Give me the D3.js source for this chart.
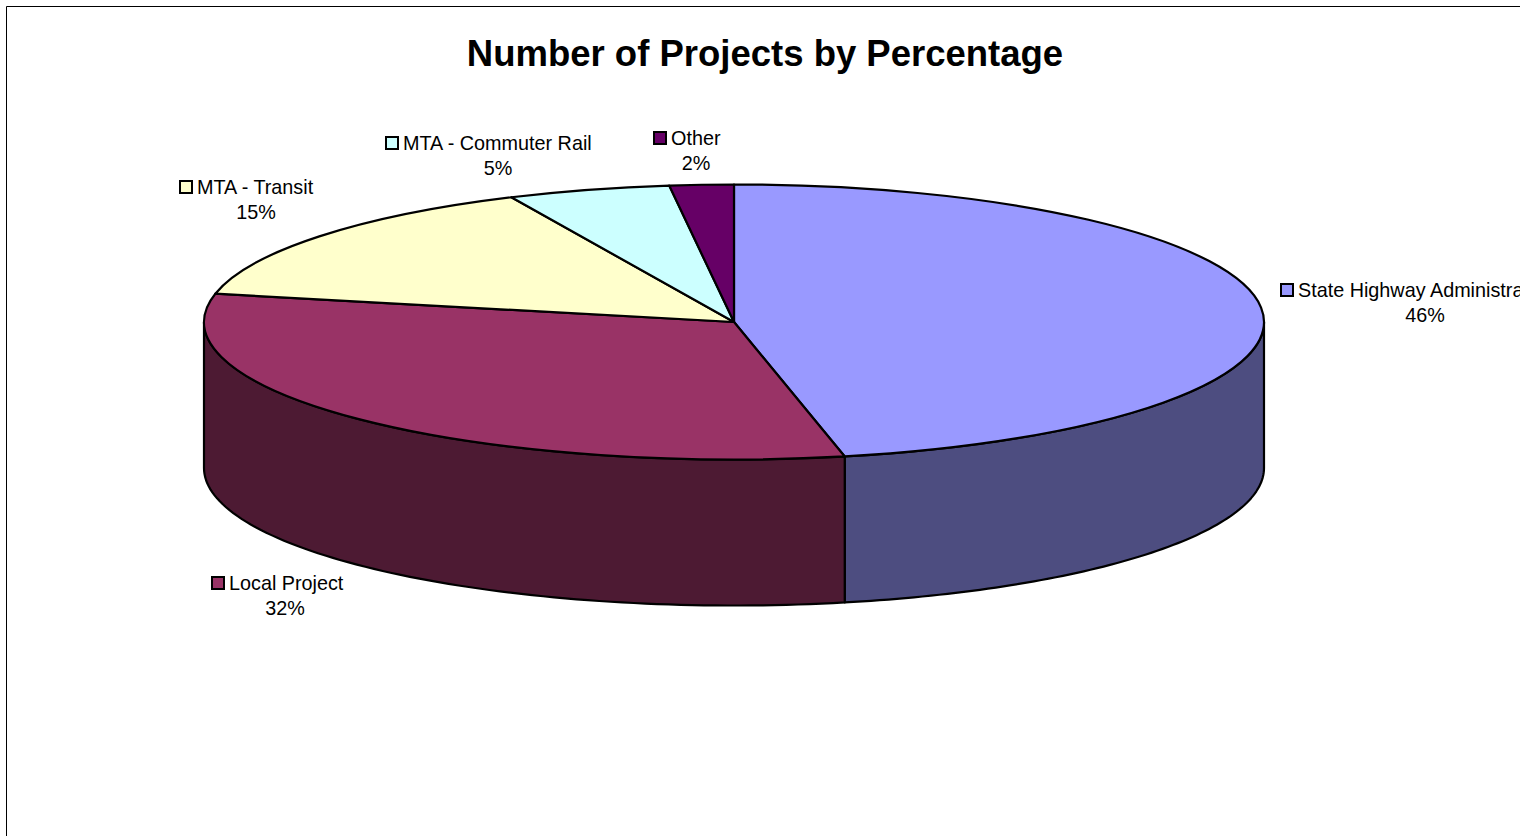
<!DOCTYPE html>
<html>
<head>
<meta charset="utf-8">
<script src="https://cdn.jsdelivr.net/npm/d3@7/dist/d3.min.js"></script>
<style>
html, body { margin: 0; padding: 0; background: #fff; overflow: hidden; }
text { font-family: "Liberation Sans", Arial, sans-serif; fill: #000; }
</style>
</head>
<body>
<div id="chart"></div>
<script>
// chart data
var categories = ["State Highway Administration", "Local Project", "MTA - Transit", "MTA - Commuter Rail", "Other"];
var values = [46.65, 31.65, 14.8, 4.95, 1.95];
var percentLabels = ["46%", "32%", "15%", "5%", "2%"];
var topColors = ["#9999FF", "#993366", "#FFFFCC", "#CCFFFF", "#660066"];
var sideColors = ["#4D4D80", "#4D1A33", "#808066", "#668080", "#330033"];

// where each label sits: start of the name line, center of the percent line
var labelNameX = [1298, 229, 197, 403, 671];
var labelNameY = [297, 590, 194, 150, 145];
var labelPctX = [1425, 285, 256, 498, 696];

var chart_width = 1520;
var chart_height = 836;

// pie geometry
var cx = 734, cy = 322;
var rx = 530, ry = 137.5;
var depth = 146;

var svg = d3.select("#chart")
    .append("svg")
    .attr("width", chart_width)
    .attr("height", chart_height)
    .style("display", "block");

// frame runs off the right and bottom of the picture
svg.append("path")
    .attr("d", "M6.5," + chart_height + "V6.5H" + chart_width)
    .attr("fill", "none")
    .attr("stroke", "#000")
    .attr("stroke-width", 1);

svg.append("text")
    .attr("x", 765)
    .attr("y", 66)
    .attr("text-anchor", "middle")
    .attr("font-size", 36.5)
    .attr("font-weight", "bold")
    .text("Number of Projects by Percentage");

var pie = d3.pie().sort(null)(values);

// d3 angles: 0 is up, clockwise
function px(a) { return cx + rx * Math.sin(a); }
function py(a) { return cy - ry * Math.cos(a); }

var line = d3.line();

// outer wall, only the part of each slice facing the viewer
var wallFrom = Math.PI / 2, wallTo = 3 * Math.PI / 2;
pie.forEach(function(d, i) {
    var a0 = Math.max(d.startAngle, wallFrom);
    var a1 = Math.min(d.endAngle, wallTo);
    if (a1 <= a0) return;
    var n = 80;
    var angles = d3.range(n + 1).map(function(k) { return a0 + (a1 - a0) * k / n; });
    var top = angles.map(function(a) { return [px(a), py(a)]; });
    var bottom = angles.slice().reverse().map(function(a) { return [px(a), py(a) + depth]; });
    svg.append("path")
        .attr("d", line(top.concat(bottom)) + "Z")
        .attr("fill", sideColors[i])
        .attr("stroke", "#000")
        .attr("stroke-width", 2.2)
        .attr("stroke-linejoin", "round");
});

// top face: a flat pie squashed into an ellipse
var arc = d3.arc().innerRadius(0).outerRadius(rx);
svg.append("g")
    .attr("transform", "translate(" + cx + "," + cy + ") scale(1," + (ry / rx) + ")")
    .selectAll("path")
    .data(pie)
    .enter()
    .append("path")
    .attr("d", arc)
    .attr("fill", function(d, i) { return topColors[i]; })
    .attr("stroke", "#000")
    .attr("stroke-width", 2.2)
    .attr("stroke-linejoin", "round")
    .attr("vector-effect", "non-scaling-stroke");

// labels with their small legend key
var labels = svg.selectAll("g.label")
    .data(categories)
    .enter()
    .append("g")
    .attr("class", "label");

labels.append("rect")
    .attr("x", function(d, i) { return labelNameX[i] - 17; })
    .attr("y", function(d, i) { return labelNameY[i] - 13; })
    .attr("width", 12)
    .attr("height", 12)
    .attr("fill", function(d, i) { return topColors[i]; })
    .attr("stroke", "#000")
    .attr("stroke-width", 2);

labels.append("text")
    .attr("x", function(d, i) { return labelNameX[i]; })
    .attr("y", function(d, i) { return labelNameY[i]; })
    .attr("font-size", 19.8)
    .text(function(d) { return d; });

labels.append("text")
    .attr("x", function(d, i) { return labelPctX[i]; })
    .attr("y", function(d, i) { return labelNameY[i] + 25; })
    .attr("text-anchor", "middle")
    .attr("font-size", 19.8)
    .text(function(d, i) { return percentLabels[i]; });
</script>
</body>
</html>
